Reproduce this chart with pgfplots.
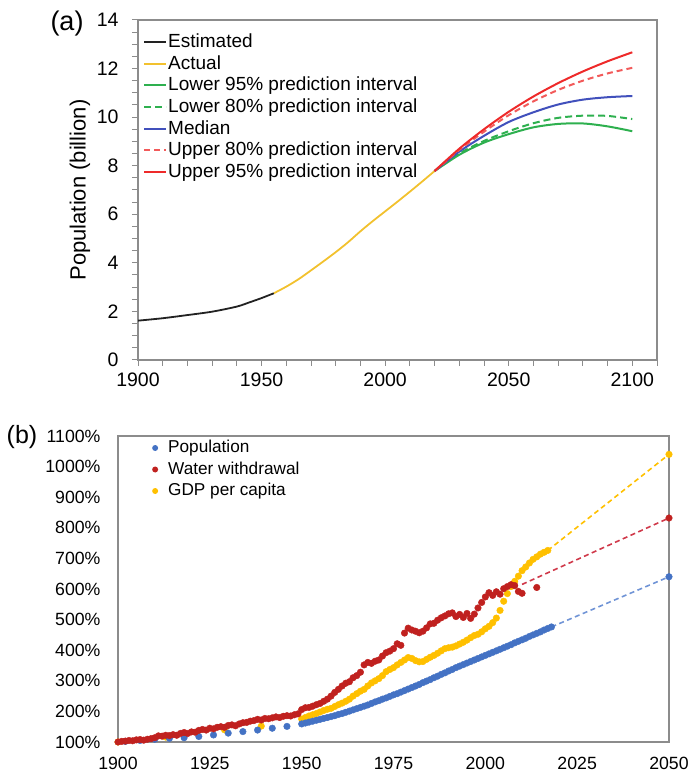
\documentclass[border=0pt]{standalone}
\usepackage{pgfplots}
\pgfplotsset{compat=1.18}
\usepackage{fontspec}
\setmainfont{Liberation Sans}
\definecolor{axgray}{HTML}{8C8C8C}
\definecolor{cEst}{HTML}{222222}
\definecolor{cAct}{HTML}{F2C12E}
\definecolor{cGreen}{HTML}{2EB04F}
\definecolor{cMed}{HTML}{4150BC}
\definecolor{cRed}{HTML}{EE2A2A}
\definecolor{cRed80}{HTML}{F25A5A}
\definecolor{bBlue}{HTML}{4472C4}
\definecolor{bRed}{HTML}{C0211F}
\definecolor{bYel}{HTML}{FFC000}
\definecolor{bBlueD}{HTML}{7094D6}
\definecolor{bRedD}{HTML}{D0394A}
\begin{document}
\begin{tikzpicture}
\path[use as bounding box] (0pt,0pt) rectangle (690pt,774pt);
\node[font=\fontsize{27}{30}\selectfont, inner sep=0pt] at (67pt,750pt) {(a)};
\node[font=\fontsize{25}{28}\selectfont, inner sep=0pt] at (22pt,337pt) {(b)};
% ---------------- panel (a)
\begin{axis}[
  at={(138pt,414pt)}, anchor=south west, scale only axis,
  width=519pt, height=340pt,
  xmin=1900, xmax=2110, ymin=0, ymax=14,
  xtick={1900,1950,2000,2050,2100},
  minor xtick={1910,1920,1930,1940,1960,1970,1980,1990,2010,2020,2030,2040,2060,2070,2080,2090,2110},
  ytick={0,2,...,14}, minor y tick num=3,
  tick align=outside, major tick length=6pt, minor tick length=6pt,
  xtick pos=bottom, ytick pos=left,
  axis line style={draw=axgray, line width=1.2pt},
  tick style={draw=axgray, line width=1pt},
  /pgf/number format/assume math mode=true,
  /pgf/number format/1000 sep={},
  ticklabel style={font=\fontsize{19.5}{23}\selectfont},
  xticklabel style={yshift=-3pt},
  yticklabel style={xshift=-10pt},
  every axis y label/.style={at={(axis description cs:-0.112,0.5)}, anchor=center, rotate=90, font=\fontsize{22}{26}\selectfont},
  ylabel={Population (billion)},
  legend cell align=left,
  legend image code/.code={\draw[#1] (0pt,0pt) -- (22pt,0pt);},
  legend style={at={(rel axis cs:0.01,0.9647)}, anchor=north west, draw=none, fill=none,
    inner sep=0pt, outer sep=0pt, row sep=1.67pt,
    font=\fontsize{19}{22}\selectfont,
    nodes={inner sep=1pt, text height=14.5pt, text depth=3.5pt}},
]
\addplot[cEst, line width=1.8pt, smooth] coordinates {
(1900,1.62) (1910,1.72) (1920,1.85) (1930,1.99) (1940,2.2) (1945,2.37) (1950,2.55) (1955,2.75)};
\addlegendentry{Estimated}
\addplot[cAct, line width=1.8pt, smooth] coordinates {
(1955,2.75) (1960,3.02) (1965,3.33) (1970,3.69) (1975,4.06) (1980,4.44) (1985,4.85) (1990,5.30) (1995,5.72) (2000,6.12) (2005,6.52) (2010,6.93) (2015,7.35) (2020,7.78)};
\addlegendentry{Actual}
\addplot[cGreen, line width=2pt, smooth] coordinates {
(2020,7.78) (2030,8.45) (2040,8.95) (2050,9.3) (2060,9.58) (2070,9.72) (2080,9.74) (2090,9.62) (2100,9.42)};
\addlegendentry{Lower 95\% prediction interval}
\addplot[cGreen, line width=2pt, smooth, dash pattern=on 7pt off 4pt] coordinates {
(2020,7.78) (2030,8.5) (2040,9.02) (2050,9.42) (2060,9.75) (2070,9.97) (2080,10.06) (2090,10.05) (2100,9.92)};
\addlegendentry{Lower 80\% prediction interval}
\addplot[cMed, line width=2pt, smooth] coordinates {
(2020,7.78) (2030,8.58) (2040,9.23) (2050,9.8) (2060,10.2) (2070,10.52) (2080,10.72) (2090,10.82) (2100,10.87)};
\addlegendentry{Median}
\addplot[cRed80, line width=2pt, smooth, dash pattern=on 6pt off 4pt] coordinates {
(2020,7.78) (2030,8.65) (2040,9.4) (2050,10.08) (2060,10.65) (2070,11.12) (2080,11.5) (2090,11.8) (2100,12.03)};
\addlegendentry{Upper 80\% prediction interval}
\addplot[cRed, line width=2pt, smooth] coordinates {
(2020,7.78) (2030,8.7) (2040,9.5) (2050,10.22) (2060,10.85) (2070,11.4) (2080,11.88) (2090,12.3) (2100,12.67)};
\addlegendentry{Upper 95\% prediction interval}
\end{axis}
% ---------------- panel (b)
\begin{axis}[
  at={(118pt,32pt)}, anchor=south west, scale only axis,
  width=551pt, height=306pt,
  xmin=1900, xmax=2050, ymin=100, ymax=1100,
  xtick={1900,1925,1950,1975,2000,2025,2050},
  ytick={100,200,...,1100},
  major tick length=0pt,
  axis line style={draw=axgray, line width=1.2pt},
  /pgf/number format/assume math mode=true,
  /pgf/number format/1000 sep={},
  ticklabel style={font=\fontsize{17.7}{21}\selectfont},
  yticklabel={\pgfmathprintnumber{\tick}\%},
  xticklabel style={yshift=-12pt},
  yticklabel style={xshift=-14pt},
  clip=false,
  legend cell align=left,
  legend style={at={(rel axis cs:0.062,0.991)}, anchor=north west, draw=none, fill=none,
    inner sep=0pt, outer sep=0pt, row sep=3pt,
    font=\fontsize{17.2}{20}\selectfont,
    nodes={inner sep=1pt, text height=13pt, text depth=3.5pt}},
]
\addlegendimage{legend image code/.code={\path[draw=none,fill=none] (0pt,-1pt) rectangle (15pt,1pt); \fill[bBlue,draw=none] (3pt,0pt) circle (3pt);}}
\addlegendentry{Population}
\addlegendimage{legend image code/.code={\path[draw=none,fill=none] (0pt,-1pt) rectangle (15pt,1pt); \fill[bRed,draw=none] (3pt,0pt) circle (3pt);}}
\addlegendentry{Water withdrawal}
\addlegendimage{legend image code/.code={\path[draw=none,fill=none] (0pt,-1pt) rectangle (15pt,1pt); \fill[bYel,draw=none] (3pt,0pt) circle (3pt);}}
\addlegendentry{GDP per capita}
% dashed projections
\addplot[forget plot, no marks, sharp plot, bYel, line width=1.6pt, dash pattern=on 5pt off 3.5pt] coordinates {(2017,726) (2050,1040)};
\addplot[forget plot, no marks, sharp plot, bRedD, line width=1.6pt, dash pattern=on 5pt off 3.5pt] coordinates {(2010,615) (2050,832)};
\addplot[forget plot, no marks, sharp plot, bBlueD, line width=1.6pt, dash pattern=on 5pt off 3.5pt] coordinates {(2018,476) (2050,640)};
% GDP per capita
\addplot[forget plot, only marks, mark=*, mark size=3.3pt, color=bYel] coordinates {
(1900,100) (1913,116) (1929,140) (1939,152)
(1950,175) (1951,180) (1952,185) (1953,189) (1954,193) (1955,198) (1956,203) (1957,207) (1958,210) (1959,216)
(1960,222) (1961,227) (1962,233) (1963,240) (1964,250) (1965,258) (1966,266) (1967,272) (1968,283) (1969,293)
(1970,300) (1971,307) (1972,317) (1973,330) (1974,337) (1975,343) (1976,352) (1977,360) (1978,368) (1979,376)
(1980,373) (1981,366) (1982,362) (1983,363) (1984,370) (1985,377) (1986,383) (1987,390) (1988,398) (1989,405)
(1990,408) (1991,410) (1992,414) (1993,420) (1994,426) (1995,433) (1996,441) (1997,448) (1998,452) (1999,460)
(2000,470) (2001,478) (2002,490) (2003,505) (2004,530) (2005,560) (2006,585) (2007,608) (2008,625) (2009,642)
(2010,660) (2011,672) (2012,685) (2013,697) (2014,705) (2015,714) (2016,720) (2017,726) (2050,1040)};
% Population
\addplot[forget plot, only marks, mark=*, mark size=3.3pt, color=bBlue] coordinates {
(1902,102) (1906,105) (1910,109) (1914,112) (1918,114) (1922,118) (1926,123) (1930,129) (1934,134) (1938,139) (1942,145) (1946,151)
(1950,159) (1951,162) (1952,165) (1953,168) (1954,171) (1955,174) (1956,177) (1957,180) (1958,183) (1959,186)
(1960,190) (1961,193) (1962,197) (1963,201) (1964,205) (1965,209) (1966,213) (1967,217) (1968,221) (1969,226)
(1970,231) (1971,235) (1972,240) (1973,244) (1974,249) (1975,254) (1976,258) (1977,263) (1978,268) (1979,273)
(1980,278) (1981,283) (1982,288) (1983,294) (1984,299) (1985,304) (1986,310) (1987,315) (1988,321) (1989,326)
(1990,332) (1991,337) (1992,343) (1993,348) (1994,353) (1995,358) (1996,363) (1997,368) (1998,373) (1999,378)
(2000,383) (2001,388) (2002,393) (2003,398) (2004,403) (2005,408) (2006,413) (2007,418) (2008,424) (2009,429)
(2010,434) (2011,439) (2012,445) (2013,450) (2014,455) (2015,460) (2016,466) (2017,471) (2018,476) (2050,640)};
% Water withdrawal
\addplot[forget plot, only marks, mark=*, mark size=3.3pt, color=bRed] coordinates {
(1900,100) (1901,102) (1902,103) (1903,105) (1904,104) (1905,107) (1906,108) (1907,106) (1908,109) (1909,111)
(1910,114) (1911,120) (1912,119) (1913,122) (1914,121) (1915,124) (1916,122) (1917,128) (1918,131) (1919,128)
(1920,133) (1921,132) (1922,138) (1923,141) (1924,139) (1925,145) (1926,143) (1927,148) (1928,150) (1929,148)
(1930,154) (1931,156) (1932,153) (1933,159) (1934,163) (1935,164) (1936,168) (1937,170) (1938,174) (1939,172)
(1940,177) (1941,176) (1942,179) (1943,182) (1944,180) (1945,184) (1946,186) (1947,185) (1948,189) (1949,192)
(1950,206) (1951,212) (1952,213) (1953,217) (1954,222) (1955,226) (1956,233) (1957,240) (1958,250) (1959,262)
(1960,272) (1961,283) (1962,292) (1963,297) (1964,310) (1965,317) (1966,328) (1967,352) (1968,360) (1969,357)
(1970,364) (1971,368) (1972,381) (1973,392) (1974,397) (1975,405) (1976,421) (1977,416) (1978,456) (1979,472)
(1980,466) (1981,462) (1982,457) (1983,462) (1984,473) (1985,486) (1986,488) (1987,498) (1988,506) (1989,512)
(1990,519) (1991,522) (1992,510) (1993,517) (1994,507) (1995,520) (1996,504) (1997,518) (1998,538) (1999,556)
(2000,574) (2001,588) (2002,579) (2003,591) (2004,583) (2005,601) (2006,608) (2007,614) (2008,611) (2009,592)
(2010,586) (2014,605) (2050,832)};
\end{axis}
\end{tikzpicture}
\end{document}
